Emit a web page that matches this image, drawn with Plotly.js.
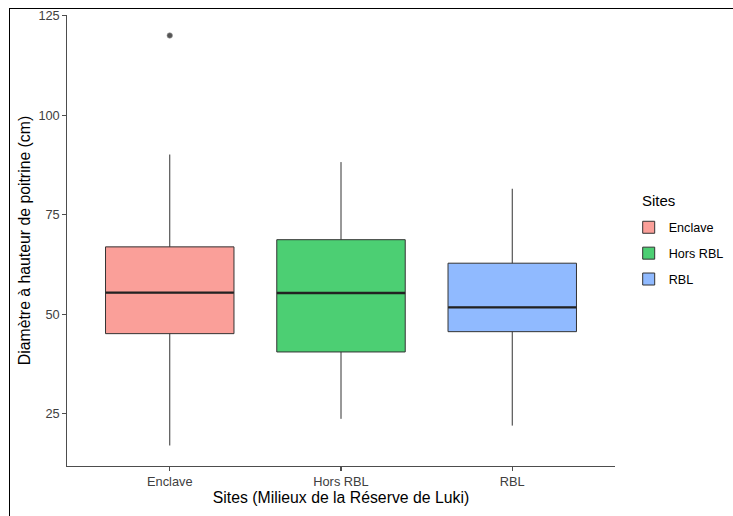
<!DOCTYPE html>
<html>
<head>
<meta charset="utf-8">
<script src="https://cdn.plot.ly/plotly-3.0.1.min.js"></script>
<style>
  html, body { margin: 0; padding: 0; background: #fff; }
  #wrap { position: relative; width: 733px; height: 516px; }
  #chart { width: 733px; height: 516px; }
  #frame { position: absolute; left: 9px; top: 8px; right: 0; bottom: 0;
           border-left: 1px solid #000; border-top: 1px solid #000; pointer-events: none; }
</style>
</head>
<body>
<div id="wrap">
  <div id="chart"></div>
  <div id="frame"></div>
</div>
<script>
// Data
const sites = ["Enclave", "Hors RBL", "RBL"];
const lowerWhisker = [17.0, 23.7, 22.0];
const q1Values = [45.1, 40.5, 45.6];
const medianValues = [55.4, 55.3, 51.7];
const q3Values = [66.9, 68.7, 62.8];
const upperWhisker = [90.1, 88.2, 81.5];
const outlierSites = ["Enclave"];
const outlierValues = [120.0];
const fillColors = ["rgba(248,118,109,0.7)", "rgba(0,186,56,0.7)", "rgba(97,156,255,0.7)"];
const yTicks = [25, 50, 75, 100, 125];

const font = "Liberation Sans, Arial, sans-serif";
const traces = [];
sites.forEach((s, i) => {
  traces.push({
    type: "box",
    name: s,
    legendgroup: s,
    x: [s],
    q1: [q1Values[i]],
    median: [medianValues[i]],
    q3: [q3Values[i]],
    lowerfence: [lowerWhisker[i]],
    upperfence: [upperWhisker[i]],
    width: 0.75,
    whiskerwidth: 0,
    fillcolor: fillColors[i],
    line: { color: "#333333", width: 1 },
    hoverinfo: "skip"
  });
});
// thicker median lines (ggplot fatten)
traces.push({
  type: "scatter",
  mode: "markers",
  x: sites,
  y: medianValues,
  showlegend: false,
  hoverinfo: "skip",
  marker: { symbol: "line-ew-open", size: 91.5, color: "#222222", line: { color: "#222222", width: 2.4 } }
});
// outliers
traces.push({
  type: "scatter",
  mode: "markers",
  x: outlierSites,
  y: outlierValues,
  showlegend: false,
  hoverinfo: "skip",
  marker: { symbol: "circle", size: 5.5, color: "#555555", line: { color: "#999999", width: 0.6 } }
});

const layout = {
  width: 733,
  height: 516,
  margin: { l: 67, r: 118, t: 15.4, b: 49.5, autoexpand: false },
  paper_bgcolor: "#ffffff",
  plot_bgcolor: "#ffffff",
  boxmode: "overlay",
  font: { family: font, color: "#000" },
  xaxis: {
    type: "category",
    categoryorder: "array",
    categoryarray: sites,
    range: [-0.6, 2.6],
    showgrid: false,
    zeroline: false,
    showline: true,
    linecolor: "#4d4d4d",
    linewidth: 1.2,
    ticks: "outside",
    ticklen: 3.5,
    tickcolor: "#4d4d4d",
    tickwidth: 1.1,
    tickfont: { family: font, size: 12.8, color: "#404040" },
    title: { text: "Sites (Milieux de la Réserve de Luki)", font: { family: font, size: 15.8, color: "#000" }, standoff: 3 }
  },
  yaxis: {
    range: [11.85, 125.15],
    tickvals: yTicks,
    ticktext: yTicks.map(String),
    showgrid: false,
    zeroline: false,
    showline: true,
    linecolor: "#4d4d4d",
    linewidth: 1.2,
    ticks: "outside",
    ticklen: 3.5,
    tickcolor: "#4d4d4d",
    tickwidth: 1.1,
    tickfont: { family: font, size: 12.8, color: "#404040" },
    title: { text: "Diamètre à hauteur de poitrine (cm)", font: { family: font, size: 15.8, color: "#000" }, standoff: 3 }
  },
  legend: {
    x: 1.025,
    xanchor: "left",
    y: 0.471,
    yanchor: "middle",
    traceorder: "grouped",
    tracegroupgap: 6.5,
    font: { family: font, size: 12.6, color: "#000" },
    bgcolor: "rgba(0,0,0,0)"
  },
  annotations: [{
    text: "Sites",
    xref: "paper", yref: "paper",
    x: 1.0456, y: 0.5886,
    xanchor: "left", yanchor: "middle",
    showarrow: false,
    font: { family: font, size: 15, color: "#000" }
  }],
  showlegend: true
};

Plotly.newPlot("chart", traces, layout, { displayModeBar: false, staticPlot: true });
</script>
</body>
</html>
